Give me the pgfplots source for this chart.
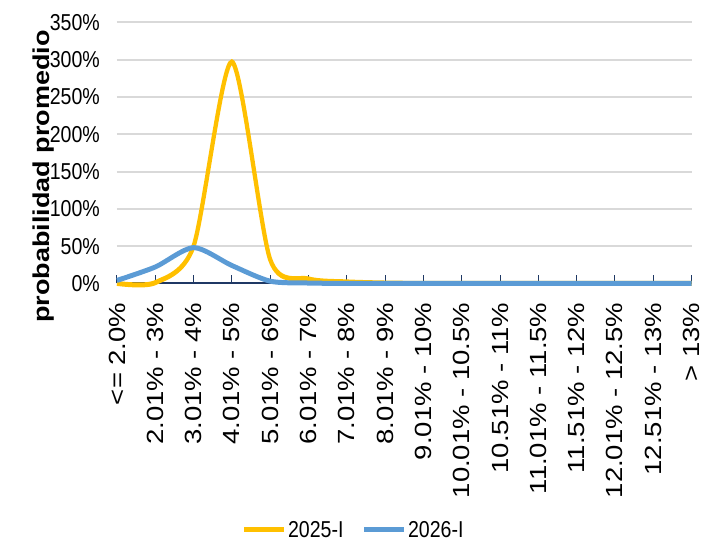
\documentclass[border=0pt]{standalone}
\usepackage{pgfplots}
\pgfplotsset{compat=1.18}
\usepackage{fontspec}
\setmainfont{Liberation Sans}
\usepackage{graphicx}
\definecolor{yel}{HTML}{FFC000}
\definecolor{blu}{HTML}{5B9BD5}
\definecolor{gridc}{HTML}{D9D9D9}
\definecolor{navy}{HTML}{1F3864}
\begin{document}
\scalebox{0.85}[1]{%
\begin{tikzpicture}
\begin{axis}[
  name=ax,
  width=676pt, height=261pt, scale only axis,
  xmin=0, xmax=15, ymin=0, ymax=350,
  clip=false,
  axis x line*=bottom, axis y line*=left,
  y axis line style={draw=none},
  x axis line style={navy, line width=2pt},
  xtick={0,1,...,15},
  xticklabels={{<= 2.0\%},{2.01\% - 3\%},{3.01\% - 4\%},{4.01\% - 5\%},{5.01\% - 6\%},{6.01\% - 7\%},{7.01\% - 8\%},{8.01\% - 9\%},{9.01\% - 10\%},{10.01\% - 10.5\%},{10.51\% - 11\%},{11.01\% - 11.5\%},{11.51\% - 12\%},{12.01\% - 12.5\%},{12.51\% - 13\%},{> 13\%}},
  ytick={0,50,...,350},
  yticklabels={0\%,50\%,100\%,150\%,200\%,250\%,300\%,350\%},
  tick align=inside,
  major tick length=8pt,
  xtick style={navy, line width=1.2pt},
  ytick style={draw=none},
  ymajorgrids,
  major grid style={gridc, line width=2pt},
  xticklabel style={font=\fontsize{27.5}{27.5}\selectfont, rotate=90, anchor=east, inner sep=0pt},
  xticklabel shift=19pt,
  yticklabel style={font=\fontsize{23}{23}\selectfont, anchor=east, inner sep=0pt},
  yticklabel shift=20pt,
  ylabel={probabilidad promedio},
  every axis y label/.style={at={(axis description cs:-0.128,0.41)}, rotate=90, anchor=center, font=\fontsize{27}{27}\selectfont\bfseries},
  legend columns=2,
  legend style={at={(axis description cs:0.412,-0.944)}, anchor=center, draw=none, fill=none, font=\fontsize{23}{23}\selectfont, /tikz/every even column/.append style={column sep=20pt}},
  legend image code/.code={\draw[#1, line width=5pt] (0pt,0pt) -- (47pt,0pt);},
]
\addplot[yel, line width=5pt, smooth, tension=0.45] coordinates {(0,0) (1,1) (2,50) (3,297) (4,32) (5,6) (6,2) (7,0.5) (8,0) (9,0) (10,0) (11,0) (12,0) (13,0) (14,0) (15,0)};
\addlegendentry{2025-I}
\addplot[blu, line width=5pt, smooth, tension=0.45] coordinates {(0,4) (1,22) (2,48) (3,24) (4,3) (5,0.5) (6,0) (7,0) (8,0) (9,0) (10,0) (11,0) (12,0) (13,0) (14,0) (15,0)};
\addlegendentry{2026-I}
\end{axis}
\pgfresetboundingbox
\path ([shift={(-137.6pt,-260.5pt)}]ax.south west) rectangle ([shift={(17pt,22.4pt)}]ax.north east);
\end{tikzpicture}}
\end{document}
